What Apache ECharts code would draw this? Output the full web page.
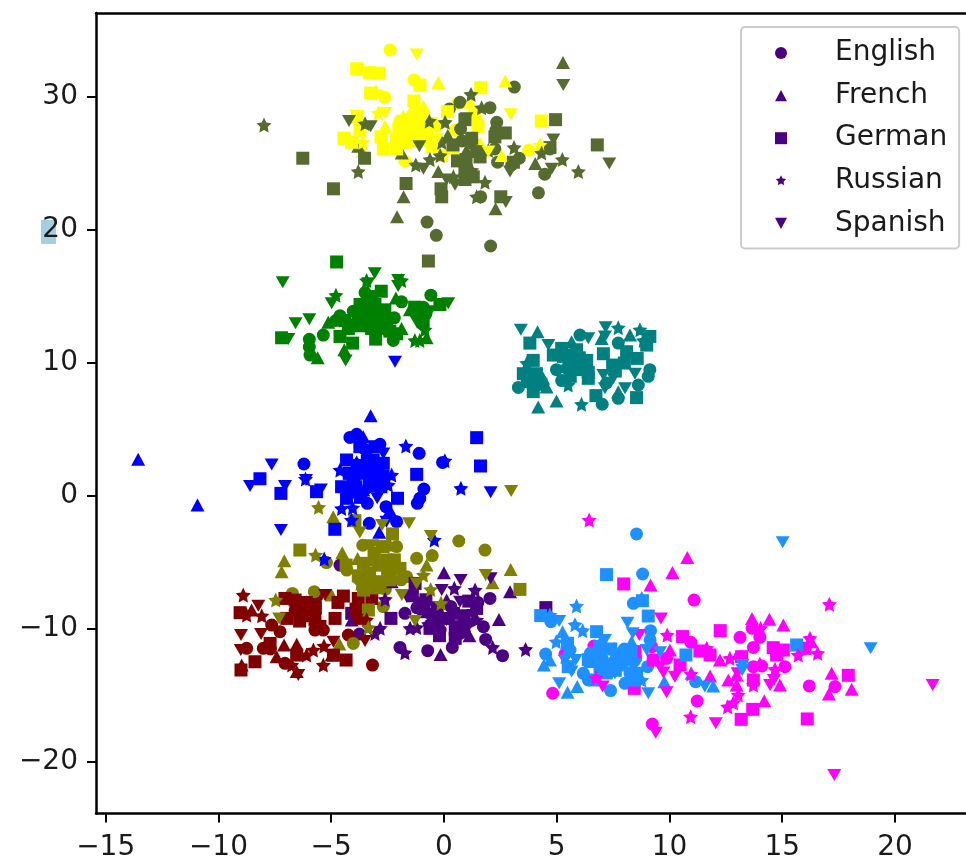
<!DOCTYPE html>
<html><head><meta charset="utf-8">
<style>html,body{margin:0;padding:0;background:#fff;overflow:hidden}#c{width:966px;height:860px;filter:blur(.5px)}</style>
<script src="https://cdn.jsdelivr.net/npm/echarts@6/dist/echarts.min.js"></script></head>
<body><div id="c"></div><script>
const languages=['English','French','German','Russian','Spanish'];
const xTicks=[-15,-10,-5,0,5,10,15,20];
const yTicks=[-20,-10,0,10,20,30];
const clusterColors={indigo:'#4b0082',yellow:'#ffff00',darkolive:'#556b2f',green:'#008000',teal:'#008080',blue:'#0000ff',maroon:'#800000',olive:'#808000',magenta:'#ff00ff',dodger:'#1e90ff'};
// ---- English
const enIndigo=[[-4.61,-5.19],[-3.75,-10.38],[-1.95,-11.38],[-.72,-11.63],[.37,-11.38],[1.85,-10.78],[2.6,-12],[2.04,-7.7],[1.75,-9.83],[1.01,-9.58],[-1.73,-8.82],[-.62,-9.7],[-.17,-10.08],[.71,-10.33],[-.1,-9.2],[.3,-8.3],[.9,-10.2],[-1.2,-8.4],[1.5,-8]];
const enYellow=[[-2.39,33.54],[-1.33,31.28],[-2.63,29.98],[-1.95,28.2],[-1.73,25.2],[.42,26],[3.76,26],[.49,27.5],[.59,29.5],[-.32,27.8],[-1.5,27.5],[-.91,26.8],[-1.2,28.2],[-1.8,27.8],[-.7,27]];
const enDarkolive=[[3.12,30.75],[2.04,29.2],[.71,29.6],[.24,29.1],[2.34,28.1],[.74,27.6],[3.34,25.4],[2.38,25.1],[4.47,24.2],[4.19,22.8],[1.63,22.5],[-.75,20.6],[-.34,19.6],[2.07,18.8],[1.3,26.5],[2.26,26.1],[1,24.3],[4.7,26.1],[.8,26.7],[2.3,27.5],[3,24.9]];
const enGreen=[[-5.97,11.78],[-5.97,11.2],[-5.94,10.6],[-5.35,12.1],[-4.61,13.56],[-3.5,15.3],[-.58,15.1],[-1.88,14.6],[-.92,14.2],[-4.02,13.9],[-2.25,11.7],[-3.7,13.5],[-3.2,14.6],[-4,12.9],[-3,13.8],[-2.2,13.4],[-4.8,13.2],[-.8,13.7]];
const enTeal=[[3.3,8.17],[3.96,8.2],[5.22,8.68],[6.03,12.1],[7.73,11.5],[9.13,9.5],[9.06,9],[8.62,8.35],[7.73,7.35],[7.02,6.9],[4.99,9.5],[5.44,9.6],[7.21,8.5]];
const enBlue=[[-6.21,2.41],[-4.17,4.41],[-3.87,4.64],[-2.84,3.89],[-1.1,3.21],[-.06,2.53],[-.89,.53],[-1.07,-.17],[-1.18,-.55],[-3.4,-.55],[-2.57,-.8],[-3.31,-2.05],[-2.1,-1.93],[-3.5,3.5],[-3.8,1.7],[-3.1,1.2],[-3.3,2],[-2.9,1.9]];
const enMaroon=[[-3.17,-12.71],[-7.27,-10.2],[-7.64,-9.7],[-5.64,-7.57],[-5.35,-10.08],[-4.24,-10.45],[-7.05,-12.58],[-5.72,-10.08],[-8.75,-11.45],[-8.01,-11.45],[-6.6,-8.6],[-7.7,-11.5],[-5.8,-8]];
const enOlive=[[.66,-3.38],[1.82,-4.06],[-5.21,-5],[-.52,-4.48],[-1.21,-4.68],[-6.72,-7.32],[-5.75,-7.19],[-2.69,-8.32],[-4.02,-11.08],[-4.31,-5.57],[-1.65,-6.07],[-3.6,-3.7],[-1.9,-6.3],[-2.6,-7],[-3.3,-6.4],[-2.1,-3.8]];
const enMagenta=[[11.09,-7.82],[4.82,-14.83],[11.23,-15.41],[9.24,-17.14],[13.13,-10.62],[16.2,-14.28],[17.34,-14.33],[14.01,-10.62],[13.72,-11.38],[10.95,-11],[5.37,-11.88],[6.65,-11.28],[15.12,-12.83],[13.72,-12.83],[14.09,-12.78],[9.21,-11.33],[9.87,-12.2],[13.13,-12.08],[13.67,-9.95]];
const enDodger=[[8.54,-2.85],[8.81,-5.86],[8.4,-8.07],[9.16,-10.12],[4.51,-11.88],[4.74,-9.45],[9.03,-12.83],[7.39,-14.63],[8.03,-14.08],[6.18,-13.33],[6.4,-13.83],[11.16,-13.96],[5.59,-11.58],[8.25,-13.33],[9.14,-10.82],[7,-11.8],[7.5,-12.5],[8,-11.5],[6.5,-11.8],[8.5,-12.2]];
// ---- French
const frIndigo=[[0,-5.77],[2.93,-7.2],[2.44,-9.28],[1.13,-10.5],[-.15,-11.91],[-2.32,-6.44],[-4.09,-9.33],[.12,-7.82],[-.54,-8.7]];
const frYellow=[[-.25,31.1],[2.72,31.2],[2.56,25.6],[-2.61,27.8],[1.16,29.6],[-.91,29.3],[-3.6,25.9],[1.6,26.5],[-.47,26.3],[-1.5,28.8]];
const frDarkolive=[[5.28,32.6],[4.05,25],[-1.79,22.5],[-2.08,21],[2.29,21.6],[.17,27.1],[-.25,24.4],[1,26],[-1.87,25.8],[-3.8,26.3]];
const frGreen=[[-5.6,10.4],[-4.42,11],[-5.13,13.06],[-2.13,14.9],[-1.51,14],[-.77,11.9],[-1.88,12.6],[-3.43,13.9]];
const frTeal=[[4.15,12.36],[8.25,12.1],[6.99,11.85],[4.18,6.7],[4.99,7.15],[3.67,9.7],[4.4,8.85],[7.73,7.85],[5.66,11.6],[4.55,8.2]];
const frBlue=[[-3.25,6.04],[-13.56,2.76],[-10.93,-.67],[-2.87,-2.73],[-2.4,-1.05],[-3.58,4.46],[-3.87,2.58],[-3.58,.45]];
const frMaroon=[[-8.97,-12.71],[-7.09,-11.2],[-6.53,-11.15],[-7.42,-12.08],[-6.09,-7.95],[-3.72,-7.95],[-4.98,-11.96],[-6.53,-13.2],[-8.53,-8.57]];
const frOlive=[[-4.91,-1.55],[-4.51,-4.26],[-7.08,-4.86],[-7.2,-5.69],[2.96,-5.52],[2.15,-6.52],[-4.64,-11.13],[-3.83,-4.69],[-2.39,-3.69],[-3.13,-4.81],[-.77,-5.19],[-4.98,-7.45]];
const frMagenta=[[10.79,-4.63],[10.13,-5.74],[9.16,-6.69],[13.66,-9.2],[14.43,-9.27],[15.05,-9.7],[16.3,-10.95],[17.19,-13.33],[18.08,-14.53],[17.07,-14.88],[14.2,-15.39],[14.9,-14.21],[12.61,-13.83],[11.8,-13.53],[12.24,-12.33],[12.98,-14.21],[10.02,-11.58],[12.98,-13.46],[14.01,-12.58]];
const frDodger=[[5.26,-10.2],[4.43,-12.7],[4.7,-12.33],[5.48,-14.76],[5.91,-14.33],[7.55,-11.45],[9.77,-13.96],[11.94,-14.28],[8.32,-10.95],[10.98,-13.33],[8.77,-7.62],[7.07,-13.08],[6.47,-12.45]];
// ---- German
const deIndigo=[[4.52,-8.39],[-2.35,-9.2],[-1.28,-6.57],[-.62,-9.95],[.42,-8.82],[1.45,-8.45],[-.32,-9.45],[.71,-9.83],[-4.09,-8.82],[-1.06,-8.07],[-.9,-8.7],[-.3,-8.4],[.2,-9.2],[.5,-10],[-.2,-10.5],[.9,-9],[1.1,-7.9],[-.8,-7.8],[.5,-10.7],[-1.4,-7.5]];
const deYellow=[[-3.87,32.13],[-3.31,31.83],[-2.88,31.8],[-1.06,30.9],[1.63,30.7],[-3.25,30.3],[-1.33,29.7],[.15,28.9],[1.36,28.6],[4.32,28.2],[-3.84,28.5],[-3.72,27.5],[-4.43,26.9],[-4.09,26.6],[-2.79,27],[-2.69,26.1],[-2.1,26.8],[-2.1,26.1],[1.51,27.8],[-1.65,28],[-1.36,27.3],[-1.06,28],[-.77,27.3],[-.1,25.6],[-1.8,27.2],[-1.5,28.3],[-1.2,26.7],[-.9,27.5],[-.6,28],[-2,27.6],[-1.7,26.6]];
const deDarkolive=[[-6.26,25.4],[-4.9,23.1],[-3.52,25.4],[-1.68,23.5],[-.13,23.1],[-.1,22.5],[2.52,22.5],[4.95,28.3],[6.8,26.4],[2.72,27.3],[2.26,27],[.93,28.3],[1.23,26.9],[1.45,25.9],[.98,25.3],[.93,24.6],[.93,23.8],[1.3,24],[3.08,25.1],[-.69,17.67],[1.6,25.5],[.6,25.2],[.4,26.4],[4.7,26.2]];
const deGreen=[[-4.76,17.6],[-7.2,11.9],[-4.61,12],[-4.05,11.5],[-3.03,11.8],[-2.78,15.4],[-3.72,14.4],[-3.06,14.4],[-2.62,14],[-2.54,13.1],[-3.06,13.4],[-3.8,13.4],[-4.24,12.6],[-2.1,12.2],[-.92,13.1],[-3.21,12.6],[-.18,14.4],[-3.4,14],[-3.3,13],[-2.9,12.9],[-4.4,13.2],[-3.7,12.8],[-2.4,12.4],[-1,13.6],[-1.3,14.2],[-3.2,15]];
const deTeal=[[3.81,11.5],[3.96,10.2],[8.54,7.4],[6.74,7.55],[6.4,8.85],[7.07,10.7],[8.1,10.85],[8.57,10.35],[7.48,9.85],[9.13,12],[8.99,11.35],[5.22,11.1],[5.88,11],[6.33,10.2],[3.52,9.2],[3.96,7.85],[4.85,10.6],[5.88,9.5],[5.3,10.5],[5.7,10.6],[6,9.8],[6.4,9.3],[6,10.4],[5.6,9],[4.1,9.2],[3.8,8.6],[4.3,8.4],[8,10],[7.6,9.4],[3.7,8.9]];
const deBlue=[[1.45,4.39],[1.62,2.26],[-1.21,1.63],[-2.06,-.17],[-4.84,-2.5],[-8.16,1.3],[-7.23,.2],[-5.65,.33],[-4.32,2.71],[-3.73,3.71],[-3.06,3.71],[-2.69,2.46],[-4.54,.7],[-4.32,-.17],[-3.58,1.71],[-2.99,1.46],[-3.14,2.71],[-4.02,1.2],[-4.2,1.7],[-3.8,2.3],[-3.4,2.6],[-3,2.2],[-2.7,1.5],[-3.9,.7],[-3.3,.9],[-2.8,.7],[-3.7,-.1],[-4.2,.3],[-3.3,1.6]];
const deMaroon=[[-9.04,-8.77],[-8.38,-12.46],[-9,-13.08],[-4.34,-12.33],[-4.83,-9.2],[-4.46,-7.52],[-3.2,-7.7],[-7.05,-7.7],[-6.97,-9.2],[-6.6,-7.82],[-5.72,-9.32],[-3.72,-9.2],[-7.71,-11.08],[-6.53,-11.96],[-4.9,-11.96],[-3.8,-7.7],[-6.38,-8.57],[-6.1,-8],[-5.7,-8.4],[-6.4,-9.4],[-5.5,-9.8],[-6,-9],[-4.7,-8],[-3.9,-8.5]];
const deOlive=[[-3.95,-1.85],[-2.28,-2.85],[-6.39,-4.06],[3.37,-7.02],[-3.35,-8.57],[-4.34,-5.19],[-3.57,-5.06],[-3.57,-7.07],[-2.54,-4.81],[-2.83,-6.44],[-1.95,-5.44],[-3.3,-5.8],[-2.9,-5.2],[-2.5,-5.5],[-2.2,-4.8],[-3,-6.9],[-2.4,-6.3],[-3.8,-6],[-2.7,-3.8],[-3.1,-4.3]];
const deMagenta=[[7.97,-6.61],[12.25,-10.12],[10.58,-10.57],[11.35,-11.65],[11.8,-11.95],[8.47,-11.7],[10.47,-12.7],[8.44,-14.46],[17.93,-13.48],[16.11,-16.76],[13.69,-16.04],[13.18,-16.79],[13.72,-13.83],[14.6,-11.4],[15.05,-11.58],[14.75,-11.95],[16.01,-11.45],[13.2,-12.08],[9.28,-12.33]];
const deDodger=[[7.21,-5.91],[4.29,-8.99],[8.8,-7.87],[9.06,-9.02],[10.73,-11.95],[15.64,-11.2],[5.51,-12.83],[5.48,-11.07],[6.7,-13.83],[6.92,-12.83],[7.66,-12.08],[8.1,-12.08],[8.54,-13.33],[6.77,-10.2],[8.4,-13.83],[6.7,-12],[7,-12.5],[7.4,-11.5],[7.2,-13.3],[7.9,-12.7],[8.3,-11.7],[6.9,-11.3],[6.4,-12.3],[7.6,-13.1]];
// ---- Russian
const ruIndigo=[[3.62,-11.53],[-2.83,-9.95],[-3.06,-10.33],[-2.61,-7.77],[-1.5,-9.95],[-1.21,-9.88],[.46,-6.94],[1.38,-7.07],[2.16,-11.38],[-1.73,-11.78],[-.47,-9.32],[1.45,-9.32]];
const ruYellow=[[-3.01,30.4],[-2.91,28.8],[-3.6,26.6],[4.26,26.4],[-1.8,28.5],[-1.2,29.1],[-.62,26.3],[-3.65,27.8],[-1.2,27.8]];
const ruDarkolive=[[-7.98,27.9],[-3.8,24.4],[1.2,30.2],[1.67,29.2],[.05,28.1],[-.65,28.2],[-3.5,28],[3.11,26.2],[4.33,25.8],[5.25,25.3],[5.96,24.4],[1.82,23.6],[.42,24],[-.17,25.6],[-1.25,24.9],[-.1,26.6],[1.97,26],[-.62,25.3],[1.45,22.5],[1.23,24.5]];
const ruGreen=[[-4.79,15.1],[-1.88,16.2],[-3.43,16.2],[-1.29,11.7],[-1.07,11.7],[-.84,12.5],[-2.84,12.6],[-4.32,13]];
const ruTeal=[[7.73,12.66],[8.69,12.5],[6.1,6.9],[5.51,8.35],[8.84,11.7],[3.67,9.98],[5.74,10.2]];
const ruBlue=[[-1.69,3.76],[.04,2.66],[.75,.58],[-4.54,-.93],[-4.05,-.88],[-4.1,-1.8],[-.43,-3.3],[-5.31,-4.73],[-2.32,1.58],[-4.61,1.96],[-2.47,.83],[-6.14,1.28],[-3.43,3.21],[-3.14,.7]];
const ruMaroon=[[-8.9,-7.45],[-8.75,-8.95],[-8.08,-9],[-5.35,-12.71],[-5.32,-11.28],[-6.09,-11.96],[-5.79,-11.58],[-6.75,-12.71],[-3.43,-9.3]];
const ruOlive=[[-5.56,-.85],[-5.69,-4.43],[-7.46,-7.82],[-.59,-7.02],[-.13,-8.07],[-3.35,-9.88],[-.91,-5.94],[-3.72,-6.57]];
const ruMagenta=[[6.44,-1.8],[17.09,-8.14],[9.9,-10.45],[12.68,-12.2],[11.65,-11.45],[14.04,-9.95],[14.68,-13.03],[16.57,-11.83],[15.71,-11.95],[16.23,-10.7],[10.95,-13.38],[13.72,-14.21],[13.05,-14.96],[12.83,-15.54],[12.58,-15.84],[10.94,-16.59],[6.74,-13.66]];
const ruDodger=[[5.88,-8.27],[5.81,-9.67],[6.15,-10.12],[4.98,-10.95],[4.7,-8.95],[5.37,-12.08],[8.77,-13.83],[6.92,-11.07],[8.4,-12.7]];
// ---- Spanish
const esIndigo=[[.74,-6.32],[-.1,-7.07],[2.07,-6.19],[-1.65,-7.57],[.42,-9.83],[-.69,-9.95],[.12,-9.32],[1.3,-8.95],[.71,-7.95]];
const esYellow=[[-1.21,33.2],[2.96,28.7],[-2.61,28.8],[-3.87,28.6],[-.91,28.4],[-1.65,26.5],[-.32,26.8],[1.97,25.9],[-1.36,28.5]];
const esDarkolive=[[5.29,30.9],[-4.21,28.2],[-3.25,27.8],[-1.09,26.3],[4.85,26.8],[4.78,24.6],[7.33,25],[2.93,24.4],[2.74,22.1],[.49,23.4],[-.91,24.6],[.12,23.8],[1,28.4]];
const esGreen=[[-7.15,16.07],[-3.07,16.75],[-2.03,16.25],[-4.98,14.5],[-6.58,13],[-5.97,13.3],[-6.9,11.8],[-4.36,10.2],[.19,14.5],[-.62,13.9],[-1.21,13.1],[-3.36,16],[-2.03,15.8]];
const esTeal=[[3.41,12.5],[7.17,12.7],[4.63,11.36],[6.4,11.86],[7.14,12],[7.07,9.1],[8.47,9.2],[8.03,8.1],[7.14,8.1],[7.51,8.85],[5.51,9.85]];
const esBlue=[[-2.17,10.1],[-7.64,2.38],[-8.6,.75],[-7.05,.75],[-6.12,1.2],[-5.46,.5],[-2.96,-.17],[-2.55,-1.93],[2.07,.28],[-7.23,-2.55],[-2.69,3.2],[-3.43,.33]];
const esMaroon=[[-8.23,-8.25],[-9,-10.45],[-8.11,-10.38],[-9.01,-11.58],[-3.5,-10.9],[-4.9,-10.95],[-5.27,-7.45],[-3.87,-9.3],[-6.46,-13.46],[-5.94,-8.95]];
const esOlive=[[2.98,.38],[-1.55,-2.05],[-.58,-3],[-2.74,-2.18],[-3.73,-2.75],[1.85,-5.94],[-7.31,-9.2],[-1.28,-9.4],[-1.87,-7.44],[-1.21,-6.57],[-3.2,-3.7],[-2.83,-3.94],[-3.43,-6.19],[-2.24,-5.69]];
const esMagenta=[[17.31,-20.97],[21.67,-14.21],[12.05,-17.09],[9.39,-17.79],[9.87,-14.76],[7.04,-14.33],[10.24,-13.58],[9.73,-13.26],[9.62,-9.2],[8.66,-10.45],[14.46,-14.21],[14.63,-13.83],[13.02,-13.33],[9.58,-12.83]];
const esDodger=[[15.02,-3.48],[18.92,-11.45],[8.14,-9.52],[5.11,-9.4],[8.37,-10.32],[9.06,-14.83],[11.57,-14.33],[5.11,-14.08],[5.84,-12.33],[5.66,-13.2],[7.14,-10.82],[13.23,-13.08],[13.24,-12.7],[9.58,-11.75],[8.99,-11.58],[7.58,-13.33]];

const order=['indigo','yellow','darkolive','green','teal','blue','maroon','olive','magenta','dodger'];
const byLanguage={
 English:[enIndigo,enYellow,enDarkolive,enGreen,enTeal,enBlue,enMaroon,enOlive,enMagenta,enDodger],
 French:[frIndigo,frYellow,frDarkolive,frGreen,frTeal,frBlue,frMaroon,frOlive,frMagenta,frDodger],
 German:[deIndigo,deYellow,deDarkolive,deGreen,deTeal,deBlue,deMaroon,deOlive,deMagenta,deDodger],
 Russian:[ruIndigo,ruYellow,ruDarkolive,ruGreen,ruTeal,ruBlue,ruMaroon,ruOlive,ruMagenta,ruDodger],
 Spanish:[esIndigo,esYellow,esDarkolive,esGreen,esTeal,esBlue,esMaroon,esOlive,esMagenta,esDodger]
};
const star='M0,-1L.29,-.4L.951,-.309L.47,.153L.588,.809L0,.5L-.588,.809L-.47,.153L-.951,-.309L-.29,-.4Z';
const triUp='path://M0,-1L1,.85L-1,.85Z';
const triDown='path://M0,1L1,-.85L-1,-.85Z';
const symbols={English:'circle',French:triUp,German:'rect',Russian:'path://'+star,Spanish:triDown};
const legendIcons={English:'circle',French:triUp,German:'rect',Russian:'path://M-1.1,-1.1L-1.1,-1.1M1.1,1.1L1.1,1.1M'+star.slice(1),Spanish:triDown};
const sizes={English:13,French:[14,13],German:13,Russian:15,Spanish:[14,12]};
const fontFamily='"DejaVu Sans"';
const fmt=v=>String(v).replace('-','\u2212');
const xRange={min:-15.43,max:23.15};
const yRange={min:-23.87,max:36.32};
const chart=echarts.init(document.getElementById('c'),null,{renderer:'canvas'});
chart.setOption({
 animation:false,backgroundColor:'#fff',
 grid:{left:96,top:13,right:0,height:800.5,show:false,outerBoundsMode:'none'},
 xAxis:[
  {type:'value',...xRange,position:'bottom',splitLine:{show:false},
   axisLine:{show:true,onZero:false,lineStyle:{color:'#000',width:2.5}},
   axisTick:{show:true,length:9,customValues:xTicks,lineStyle:{color:'#000',width:2}},
   axisLabel:{show:true,customValues:xTicks,margin:20,fontSize:28,color:'#1a1a1a',fontFamily,formatter:fmt}},
  {type:'value',...xRange,position:'top',splitLine:{show:false},axisTick:{show:false},axisLabel:{show:false},
   axisLine:{show:true,onZero:false,lineStyle:{color:'#000',width:2.5}}}
 ],
 yAxis:[
  {type:'value',...yRange,position:'left',splitLine:{show:false},
   axisLine:{show:true,onZero:false,lineStyle:{color:'#000',width:2.5}},
   axisTick:{show:true,length:9,customValues:yTicks,lineStyle:{color:'#000',width:2}},
   axisLabel:{show:true,customValues:yTicks,margin:18,fontSize:28,color:'#1a1a1a',fontFamily,formatter:fmt}}
 ],
 graphic:[{type:'rect',z:-10,shape:{x:41,y:220,width:15,height:24},style:{fill:'#a6cee3'},silent:true}],
 legend:{
  orient:'vertical',left:741,top:27,itemWidth:12,itemHeight:12,itemGap:12.6,
  padding:[11,12,10,34],itemTextGap:5,
  backgroundColor:'#fff',borderColor:'#cccccc',borderWidth:2,borderRadius:4,
  textStyle:{fontFamily,fontSize:28,color:'#1a1a1a',lineHeight:30,padding:[0,0,0,43]},
  data:languages.map(n=>({name:n,icon:legendIcons[n],itemStyle:{color:clusterColors.indigo}})),
  selectedMode:false
 },
 series:languages.map(name=>{
   const data=[];
   byLanguage[name].forEach((arr,i)=>arr.forEach(p=>data.push({value:p,itemStyle:{color:clusterColors[order[i]]}})));
   return {type:'scatter',name,data,symbol:symbols[name],symbolSize:sizes[name],itemStyle:{color:clusterColors.indigo,opacity:1},clip:true};
 })
});
</script></body></html>
